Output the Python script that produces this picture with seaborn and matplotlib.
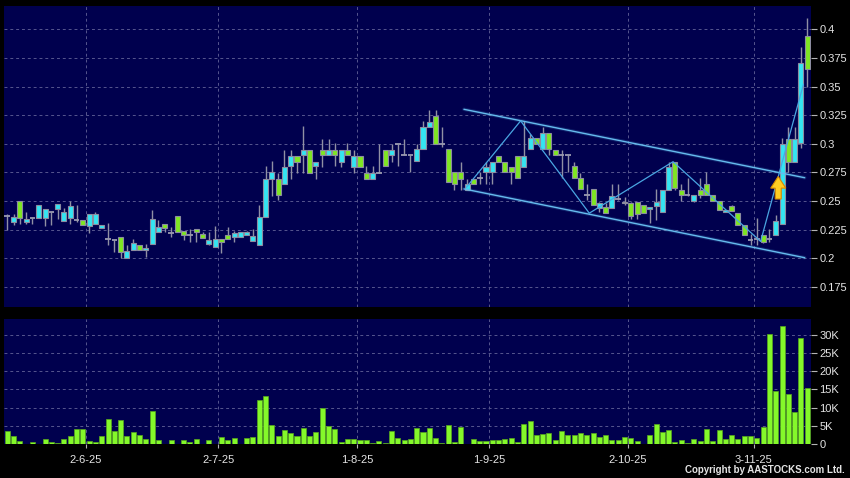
import numpy as np
import pandas as pd
import matplotlib.pyplot as plt
import matplotlib.patches as mpatches
import seaborn as sns

# daily candles, one per trading day (oldest first)
opens = [0.237, 0.232, 0.250, 0.232, 0.235, 0.235, 0.2355, 0.2405, 0.2433, 0.2328,
         0.2355, 0.2334, 0.2334, 0.2285, 0.2297, 0.2261, 0.2166, 0.2155, 0.2183, 0.200,
         0.2067, 0.2116, 0.2067, 0.2122, 0.2232, 0.2301, 0.2217, 0.2365, 0.2235, 0.2206,
         0.2258, 0.2209, 0.2128, 0.2096, 0.2165, 0.220, 0.2183, 0.2188, 0.2206, 0.2154,
         0.2113, 0.2357, 0.2694, 0.2694, 0.2645, 0.2803, 0.289, 0.2899, 0.2949, 0.2803,
         0.2949, 0.2899, 0.2949, 0.2841, 0.2949, 0.2797, 0.289, 0.2744, 0.2694, 0.2744,
         0.2949, 0.2899, 0.300, 0.2899, 0.290, 0.2847, 0.295, 0.3148, 0.3244, 0.300,
         0.295, 0.2754, 0.2754, 0.2599, 0.2695, 0.270, 0.2754, 0.2754, 0.2891, 0.2841,
         0.2797, 0.2891, 0.2797, 0.295, 0.3046, 0.2951, 0.3096, 0.2945, 0.290, 0.290,
         0.2806, 0.2697, 0.2552, 0.2601, 0.2434, 0.2449, 0.2434, 0.252, 0.2493, 0.2478,
         0.2493, 0.2463, 0.2428, 0.2455, 0.2405, 0.2595, 0.2844, 0.2599, 0.2555, 0.2497,
         0.2599, 0.2651, 0.2549, 0.2497, 0.2404, 0.2453, 0.2396, 0.2287, 0.2156, 0.2167,
         0.220, 0.2167, 0.220, 0.2302, 0.304, 0.2842, 0.3008, 0.3945]
highs = [0.239, 0.239, 0.250, 0.240, 0.235, 0.2465, 0.243, 0.2405, 0.2471, 0.2436,
         0.250, 0.2465, 0.2334, 0.2384, 0.2401, 0.229, 0.2305, 0.2155, 0.2183, 0.2116,
         0.2166, 0.2116, 0.2122, 0.242, 0.2333, 0.2301, 0.2275, 0.2365, 0.2235, 0.2255,
         0.2258, 0.2232, 0.2232, 0.2281, 0.2165, 0.227, 0.224, 0.2226, 0.2235, 0.2252,
         0.2464, 0.2803, 0.2846, 0.2744, 0.2949, 0.2945, 0.289, 0.3154, 0.2949, 0.2841,
         0.3045, 0.3045, 0.3007, 0.2949, 0.3007, 0.2949, 0.289, 0.2803, 0.2803, 0.300,
         0.2949, 0.300, 0.300, 0.3045, 0.290, 0.300, 0.320, 0.3294, 0.3294, 0.315,
         0.295, 0.2754, 0.2841, 0.2695, 0.2695, 0.2754, 0.2841, 0.2841, 0.2891, 0.2841,
         0.2797, 0.2891, 0.320, 0.3085, 0.3046, 0.3148, 0.3096, 0.2945, 0.2945, 0.290,
         0.2843, 0.2747, 0.2645, 0.2601, 0.2495, 0.2478, 0.2645, 0.2645, 0.2536, 0.2493,
         0.2493, 0.2463, 0.2449, 0.2601, 0.2595, 0.2844, 0.2844, 0.265, 0.270, 0.2555,
         0.270, 0.2753, 0.2549, 0.2497, 0.2424, 0.2468, 0.2396, 0.2287, 0.2215, 0.2355,
         0.220, 0.2255, 0.2375, 0.3046, 0.3148, 0.3148, 0.3848, 0.4096]
lows = [0.225, 0.229, 0.230, 0.230, 0.230, 0.235, 0.228, 0.229, 0.234, 0.2328,
        0.2297, 0.232, 0.229, 0.2218, 0.2297, 0.2261, 0.2116, 0.2058, 0.200, 0.200,
        0.2067, 0.2073, 0.2014, 0.2122, 0.2232, 0.2232, 0.2183, 0.2229, 0.216, 0.2145,
        0.2145, 0.218, 0.2116, 0.2096, 0.2049, 0.2165, 0.2145, 0.2188, 0.2206, 0.2154,
        0.2113, 0.2357, 0.2545, 0.251, 0.2645, 0.2694, 0.2744, 0.2744, 0.2744, 0.2694,
        0.2797, 0.2899, 0.2803, 0.2797, 0.2899, 0.2744, 0.2797, 0.2694, 0.2694, 0.2744,
        0.2803, 0.2841, 0.2803, 0.2899, 0.275, 0.2847, 0.295, 0.3148, 0.300, 0.297,
        0.2666, 0.2599, 0.2599, 0.2599, 0.2646, 0.2651, 0.2651, 0.2651, 0.2841, 0.2754,
        0.2651, 0.2704, 0.2797, 0.295, 0.300, 0.2951, 0.290, 0.2901, 0.2697, 0.275,
        0.2697, 0.2601, 0.2509, 0.2463, 0.2405, 0.2396, 0.2434, 0.251, 0.2463, 0.2346,
        0.2346, 0.2396, 0.2303, 0.2332, 0.2405, 0.2595, 0.2595, 0.2497, 0.254, 0.249,
        0.2526, 0.2555, 0.2497, 0.2424, 0.2404, 0.241, 0.2287, 0.220, 0.2113, 0.2116,
        0.2133, 0.2137, 0.220, 0.2302, 0.2755, 0.2842, 0.2959, 0.350]
closes = [0.237, 0.236, 0.235, 0.234, 0.235, 0.2465, 0.243, 0.2405, 0.2471, 0.2401,
          0.2456, 0.2334, 0.229, 0.2384, 0.2384, 0.229, 0.2166, 0.2155, 0.2058, 0.2064,
          0.2131, 0.2073, 0.2087, 0.2339, 0.227, 0.2267, 0.2217, 0.2229, 0.2206, 0.2206,
          0.2226, 0.218, 0.2157, 0.2165, 0.2139, 0.2165, 0.2217, 0.2226, 0.2226, 0.2194,
          0.2357, 0.2696, 0.2753, 0.2548, 0.2797, 0.289, 0.2841, 0.2949, 0.2744, 0.2841,
          0.2899, 0.2949, 0.2899, 0.2949, 0.2899, 0.289, 0.2797, 0.2694, 0.2744, 0.2744,
          0.2803, 0.2949, 0.300, 0.2899, 0.290, 0.295, 0.3148, 0.3192, 0.300, 0.300,
          0.2666, 0.2646, 0.2695, 0.2646, 0.2646, 0.270, 0.2797, 0.2841, 0.2841, 0.2754,
          0.2754, 0.2704, 0.2891, 0.3046, 0.300, 0.3096, 0.2951, 0.2901, 0.290, 0.290,
          0.2697, 0.2601, 0.2552, 0.2463, 0.2478, 0.2396, 0.2542, 0.252, 0.2478, 0.2367,
          0.2384, 0.2396, 0.2449, 0.2493, 0.2595, 0.280, 0.2610, 0.2555, 0.2555, 0.2549,
          0.2549, 0.2555, 0.2497, 0.2424, 0.2424, 0.241, 0.2287, 0.220, 0.2156, 0.2167,
          0.2140, 0.2167, 0.2322, 0.3002, 0.2842, 0.304, 0.3702, 0.3653]
volumes = [3500, 2300, 900, 100, 550, 50, 1500, 550, 400, 1500,
           2100, 4050, 4050, 800, 450, 2100, 7000, 3700, 6700, 2300,
           3400, 2500, 1400, 9000, 1200, 50, 1100, 50, 1200, 550,
           1300, 50, 1200, 100, 2000, 1000, 1750, 50, 1750, 1850,
           12100, 13200, 5100, 2300, 3800, 3100, 2100, 4300, 2100, 3200,
           9900, 4900, 4200, 550, 1400, 1400, 1200, 1200, 400, 900,
           400, 3600, 1600, 1200, 1400, 4500, 3300, 4400, 1750, 300,
           5200, 550, 4800, 100, 1500, 750, 750, 1200, 1200, 1500,
           1650, 450, 5500, 6300, 2400, 2700, 2900, 1100, 3700, 2500,
           2500, 3100, 2500, 2900, 1900, 2400, 1000, 1200, 2000, 1600,
           750, 100, 2500, 5400, 3200, 3800, 650, 1200, 400, 1300,
           800, 4050, 900, 3800, 1300, 2400, 1500, 2100, 2300, 1750,
           4700, 30200, 14600, 32600, 13700, 8700, 29200, 15300]

# first trading day of each month shown on the axis
month_labels = ['2-6-25', '2-7-25', '1-8-25', '1-9-25', '2-10-25', '3-11-25']
month_start = [13, 34, 56, 77, 99, 119]

# hand drawn channel and zigzag (index, price)
channel_top = [(72.5, 0.3301), (126.6, 0.2703)]
channel_bottom = [(72.5, 0.2605), (126.6, 0.2004)]
zigzag = [(72.9, 0.262), (81.5, 0.320), (92.4, 0.2393), (105.7, 0.2843),
          (119.6, 0.2146), (126.4, 0.352)]

cyan = '#34e4f2'
green = '#7fe622'
navy = '#00004e'
grid_c = '#56568e'
text_c = '#e4e4e4'

sns.set_theme(style='dark', rc={'axes.facecolor': navy, 'figure.facecolor': 'black'})
plt.rcParams['font.family'] = ['Liberation Sans', 'DejaVu Sans']

df = pd.DataFrame({'o': opens, 'h': highs, 'l': lows, 'c': closes, 'v': volumes})
df['i'] = np.arange(len(df))

fig = plt.figure(figsize=(8.5, 4.78), dpi=100, facecolor='black')
ax = fig.add_axes([4 / 850, 1 - 307 / 478, 807 / 850, 301 / 478])
axv = fig.add_axes([4 / 850, 1 - 444 / 478, 807 / 850, 125 / 478])

# candles
ax.vlines(df['i'], df['l'], df['h'], color='#9090a4', lw=1, zorder=2)
up = df[df['c'] > df['o']]
dn = df[df['c'] < df['o']]
fl = df[df['c'] == df['o']]
ax.bar(up['i'], up['c'] - up['o'], bottom=up['o'], width=0.8, color=cyan,
       edgecolor='#8c8ca0', lw=0.8, zorder=3)
ax.bar(dn['i'], dn['o'] - dn['c'], bottom=dn['c'], width=0.8, color=green,
       edgecolor='#8c8ca0', lw=0.8, zorder=3)
ax.hlines(fl['c'], fl['i'] - 0.45, fl['i'] + 0.45, color='#9a9ab0', lw=1.3, zorder=3)

# trend lines
for seg in (channel_top, channel_bottom):
    xs, ys = zip(*seg)
    ax.plot(xs, ys, color='#5ab8f0', lw=2.5, alpha=0.18, zorder=4)
    ax.plot(xs, ys, color='#66bcee', lw=1.0, zorder=5)
zx, zy = zip(*zigzag)
sns.lineplot(x=list(zx), y=list(zy), sort=False, color='#4aa6e2', lw=0.9, ax=ax, zorder=5)

ax.add_patch(mpatches.FancyArrow(122.4, 0.2517, 0, 0.0197, width=0.95, head_width=2.4,
                                 head_length=0.0102, length_includes_head=True,
                                 facecolor='#ffcc22', edgecolor='#d98a00', lw=0.8, zorder=6))

# volume
sns.barplot(data=df, x='i', y='v', native_scale=True, color='#84f82a', saturation=1,
            edgecolor='#58a81c', linewidth=0.5, errorbar=None, width=0.8, ax=axv)

bounds = [m - 0.5 for m in month_start]
for a in (ax, axv):
    a.set_xlim(-0.52, 127.6)
    a.set_xlabel('')
    a.set_ylabel('')
    for s in a.spines.values():
        s.set_visible(False)
    for b in bounds:
        a.axvline(b, color=grid_c, lw=0.7, ls=(0, (3, 3)), zorder=1)
    a.yaxis.tick_right()
    a.tick_params(axis='y', colors='#b4b4b4', labelcolor=text_c, length=4, width=0.8,
                  pad=2, labelsize=8, direction='out', right=True, left=False)
    a.grid(False)

price_ticks = [0.175, 0.2, 0.225, 0.25, 0.275, 0.3, 0.325, 0.35, 0.375, 0.4]
ax.set_ylim(0.1573, 0.4204)
ax.set_yticks(price_ticks, ['%g' % t for t in price_ticks])
for t in price_ticks:
    ax.axhline(t, color=grid_c, lw=0.7, ls=(0, (3, 3)), zorder=1)
ax.set_xticks([])

vol_ticks = [0, 5000, 10000, 15000, 20000, 25000, 30000]
axv.set_ylim(0, 34400)
axv.set_yticks(vol_ticks, ['0' if t == 0 else '%dK' % (t // 1000) for t in vol_ticks])
for t in vol_ticks[1:]:
    axv.axhline(t, color=grid_c, lw=0.7, ls=(0, (3, 3)), zorder=0)
axv.set_xticks(bounds, month_labels)
axv.tick_params(axis='x', colors='#b4b4b4', labelcolor=text_c, length=3, width=0.8,
                pad=5, labelsize=8, bottom=True, direction='out')

fig.text(845 / 850, 1 - 470 / 478, 'Copyright by AASTOCKS.com Ltd.', ha='right', va='center',
         color=text_c, fontsize=7, fontweight='bold')

fig.savefig('out.png', dpi=100, facecolor='black')
